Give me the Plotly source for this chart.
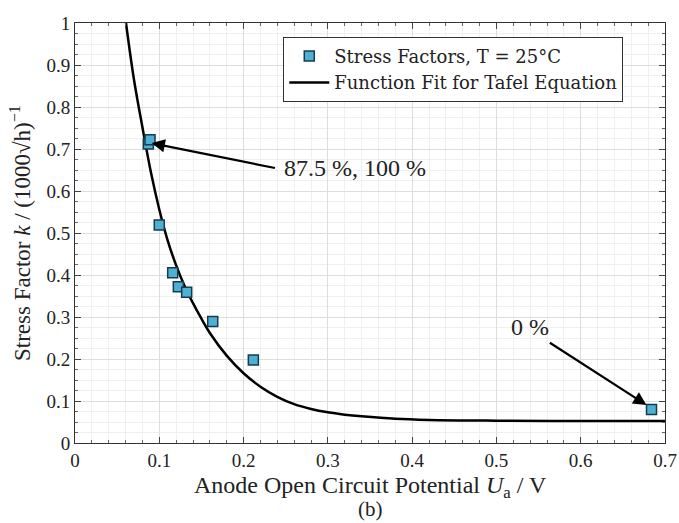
import plotly.graph_objects as go

# measured stress factors
u_points = [0.087, 0.089, 0.100, 0.1159, 0.1226, 0.1325, 0.1634, 0.2116, 0.684]
k_points = [0.712, 0.722, 0.519, 0.4055, 0.372, 0.359, 0.289, 0.1976, 0.080]

# Tafel fit curve
u_fit = [0.0605, 0.07, 0.08, 0.09, 0.10, 0.11, 0.12, 0.13, 0.14, 0.15, 0.16,
         0.18, 0.20, 0.22, 0.24, 0.26, 0.28, 0.30, 0.32, 0.34, 0.38, 0.42, 0.50, 0.60, 0.70]
k_fit = [1.0, 0.865, 0.752, 0.645, 0.556, 0.482, 0.423, 0.374, 0.333, 0.296, 0.262,
         0.208, 0.166, 0.134, 0.110, 0.0925, 0.081, 0.0730, 0.0675, 0.0635, 0.0575, 0.0548,
         0.0532, 0.0525, 0.0524]

x_ticks = [0, 0.1, 0.2, 0.3, 0.4, 0.5, 0.6, 0.7]
y_ticks = [0, 0.1, 0.2, 0.3, 0.4, 0.5, 0.6, 0.7, 0.8, 0.9, 1]

FONT = "Liberation Serif"
TXT = '#222222'

fig = go.Figure()

fig.add_trace(go.Scatter(
    x=u_fit, y=k_fit, mode='lines', line_shape='spline',
    name='Function Fit for Tafel Equation',
    line=dict(color='black', width=2.5)
))

fig.add_trace(go.Scatter(
    x=u_points, y=k_points, mode='markers',
    name='Stress Factors, T = 25°C',
    marker=dict(symbol='square', size=10, color='#4fb0d6',
                line=dict(color='#163b4c', width=1.5))
))

axis_common = dict(
    showline=True, linecolor='#333333', linewidth=1, mirror='ticks',
    ticks='inside', ticklen=6, tickcolor='#444444',
    showgrid=True, gridcolor='#dddddd', gridwidth=1,
    zeroline=False, automargin=False,
    tickfont=dict(family=FONT, size=19, color=TXT),
)

fig.update_xaxes(
    range=[0, 0.7], tickvals=x_ticks, ticktext=[f'{v:g}' for v in x_ticks],
    minor=dict(dtick=0.02, showgrid=True, gridcolor='#f0f0f0', ticks='inside',
               ticklen=3, tickcolor='#666666'),
    **axis_common
)
fig.update_yaxes(
    range=[0, 1], tickvals=y_ticks, ticktext=[f'{v:g}' for v in y_ticks],
    minor=dict(dtick=0.025, showgrid=True, gridcolor='#f0f0f0', ticks='inside',
               ticklen=3, tickcolor='#666666'),
    **axis_common
)

# axis titles and caption
fig.add_annotation(x=0.5, y=0, xref='paper', yref='paper', yanchor='middle',
                   yshift=-44, showarrow=False,
                   text='Anode Open Circuit Potential <i>U</i><sub>a</sub> / V',
                   font=dict(family=FONT, size=24, color=TXT))
fig.add_annotation(x=0.5, y=0, xref='paper', yref='paper', yanchor='middle',
                   yshift=-66, showarrow=False, text='(b)',
                   font=dict(family=FONT, size=21, color=TXT))
fig.add_annotation(x=0, y=0.5, xref='paper', yref='paper', xanchor='center',
                   xshift=-55, showarrow=False, textangle=-90,
                   text='Stress Factor <i>k</i> / (1000√h)<sup>−1</sup>',
                   font=dict(family=FONT, size=23, color=TXT))

# arrows and labels
fig.add_annotation(x=0.091, y=0.714, ax=0.239, ay=0.654, xref='x', yref='y',
                   axref='x', ayref='y', showarrow=True, arrowhead=2,
                   arrowsize=1.2, arrowwidth=2.2, arrowcolor='black', text='')
fig.add_annotation(x=0.332, y=0.654, text='87.5 %, 100 %', showarrow=False,
                   font=dict(family=FONT, size=24, color=TXT))
fig.add_annotation(x=0.678, y=0.0905, ax=0.5616, ay=0.241, xref='x', yref='y',
                   axref='x', ayref='y', showarrow=True, arrowhead=2,
                   arrowsize=1.2, arrowwidth=2.2, arrowcolor='black', text='')
fig.add_annotation(x=0.540, y=0.277, text='0 %', showarrow=False,
                   font=dict(family=FONT, size=24, color=TXT))

fig.update_layout(
    width=679, height=523,
    margin=dict(l=75, r=14, t=23, b=80),
    plot_bgcolor='white', paper_bgcolor='white',
    font=dict(family=FONT, color=TXT),
    legend=dict(
        x=0.353, y=0.967, xanchor='left', yanchor='top',
        bgcolor='white', bordercolor='#333333', borderwidth=1,
        font=dict(family="DejaVu Serif", size=18, color=TXT),
        traceorder='reversed', itemwidth=40, tracegroupgap=0,
    ),
    showlegend=True,
)

# drop the default page margin so the 679x523 figure fits the window
fig.write_html("out.html", config={'displayModeBar': False},
               post_script="document.body.style.margin='0';")
